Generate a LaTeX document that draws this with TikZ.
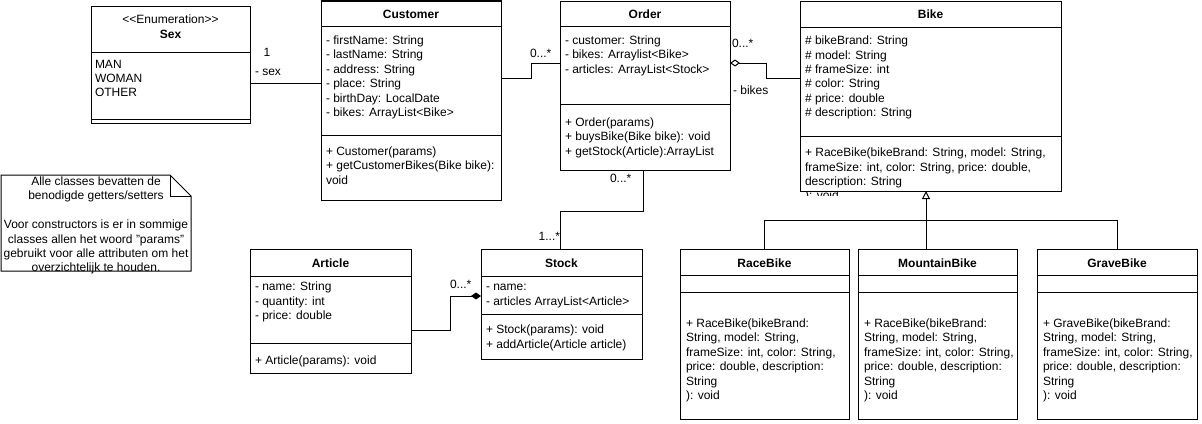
\documentclass[tikz,border=0pt]{standalone}
\usepackage{fontspec}
\setmainfont{Liberation Sans}
\usetikzlibrary{arrows.meta}
\newcommand\fs{\fontsize{12}{14.4}\selectfont}
% text block: name, x, first baseline, lines
\newcommand\tb[4]{\node[txt] (#1) at (#2,{#3-10.08}) {\strut #4};}
% header: name, x, baseline, text
\newcommand\hd[4]{\node[hdr] (#1) at (#2,#3) {#4};}
% separator: box, y
\newcommand\sepl[2]{\draw[ln] (#1.west |- 0,#2) -- (#1.east |- 0,#2);}
\begin{document}
\begin{tikzpicture}[x=1pt,y=-1pt,
  ln/.style={draw=black,line width=1pt},
  box/.style={draw=black,line width=1pt,inner sep=0pt,outer sep=0pt,anchor=north west,fill=white},
  txt/.style={inner sep=0pt,outer sep=0pt,anchor=north west,align=left,font=\fs},
  hdr/.style={inner sep=0pt,outer sep=0pt,anchor=base,font=\fs\bfseries},
  lbl/.style={inner sep=0pt,outer sep=0pt,font=\fs}]
\useasboundingbox[fill=white] (0,0) rectangle (1202,423);

% ---------- boxes ----------
\node[box,minimum width=159pt,minimum height=117pt] (sex) at (91,6) {};
\node[box,minimum width=180pt,minimum height=199pt] (cust) at (321,1) {};
\node[box,minimum width=170pt,minimum height=169pt] (ord) at (560,1) {};
\node[box,minimum width=261pt,minimum height=190pt] (bike) at (800,1) {};
\node[box,minimum width=161pt,minimum height=124pt] (art) at (250,249) {};
\node[box,minimum width=161pt,minimum height=110pt] (stock) at (481,249) {};
\node[box,minimum width=169pt,minimum height=170pt] (race) at (680,249) {};
\node[box,minimum width=159pt,minimum height=170pt] (mtn) at (858,249) {};
\node[box,minimum width=160pt,minimum height=170pt] (grave) at (1037,249) {};

% ---------- separators ----------
\sepl{sex}{52} \sepl{sex}{119}
\sepl{cust}{26} \sepl{cust}{135}
\sepl{ord}{26} \sepl{ord}{104}
\sepl{bike}{27} \sepl{bike}{136}
\sepl{art}{276} \sepl{art}{343}
\sepl{stock}{276} \sepl{stock}{314}
\sepl{race}{275} \sepl{race}{292}
\sepl{mtn}{275} \sepl{mtn}{292}
\sepl{grave}{275} \sepl{grave}{292}

% ---------- Sex ----------
\node[lbl,anchor=base] (sexst) at (170.5,23.5) {<{}<Enumeration>{}>};
\hd{sexh}{170.5}{38}{Sex}
\tb{sexa}{95}{68}{MAN\\WOMAN\\OTHER}

% ---------- Customer ----------
\hd{custh}{411}{18.5}{Customer}
\tb{custa}{326}{44.5}{- firstName: String\\- lastName: String\\- address: String\\- place: String\\- birthDay: LocalDate\\- bikes: ArrayList<Bike>}
\tb{custm}{326}{155.5}{+ Customer(params)\\+ getCustomerBikes(Bike bike):\\void}

% ---------- Order ----------
\hd{ordh}{645}{18.5}{Order}
\tb{orda}{565}{44.5}{- customer: String\\- bikes: Arraylist<Bike>\\- articles: ArrayList<Stock>}
\tb{ordm}{565}{126.5}{+ Order(params)\\+ buysBike(Bike bike): void\\+ getStock(Article):ArrayList}

% ---------- Bike ----------
\hd{bikeh}{930.5}{18.5}{Bike}
\tb{bikea}{805}{44.7}{\# bikeBrand: String\\\# model: String\\\# frameSize: int\\\# color: String\\\# price: double\\\# description: String}
\tb{bikem}{805}{156.7}{+ RaceBike(bikeBrand: String, model: String,\\frameSize: int, color: String, price: double,\\description: String}
\begin{scope}
\clip (802,191.6) rectangle (900,195);
\tb{bikeov}{805}{199.9}{): void}
\end{scope}

% ---------- Article ----------
\hd{arth}{330.5}{267.5}{Article}
\tb{arta}{255}{290.7}{- name: String\\- quantity: int\\- price: double}
\tb{artm}{255}{364.7}{+ Article(params): void}

% ---------- Stock ----------
\hd{stockh}{561.5}{267.5}{Stock}
\tb{stocka}{486}{290.7}{- name:\\- articles ArrayList<Article>}
\tb{stockm}{486}{333.7}{+ Stock(params): void\\+ addArticle(Article article)}

% ---------- Sub classes ----------
\hd{raceh}{764.5}{267.5}{RaceBike}
\tb{racem}{686}{327.5}{+ RaceBike(bikeBrand:\\String, model: String,\\frameSize: int, color: String,\\price: double, description:\\String\\): void}
\hd{mtnh}{937.5}{267.5}{MountainBike}
\tb{mtnm}{864}{327.5}{+ RaceBike(bikeBrand:\\String, model: String,\\frameSize: int, color: String,\\price: double, description:\\String\\): void}
\hd{graveh}{1117}{267.5}{GraveBike}
\tb{gravem}{1043}{327.5}{+ GraveBike(bikeBrand:\\String, model: String,\\frameSize: int, color: String,\\price: double, description:\\String\\): void}

% ---------- Note ----------
\coordinate (noteNW) at (1,175);
\coordinate (noteSE) at (191,271);
\draw[ln,fill=white] (noteNW) -- (170,175) -- (noteSE |- 0,196) -- (noteSE) -- (noteNW |- noteSE) -- cycle;
\draw[ln] (170,175) -- (170,196) -- (noteSE |- 0,196);
\node[txt,align=center,anchor=north] (notet) at (96,{185.5-10.08}) {\strut Alle classes bevatten de\\benodigde getters/setters\\\mbox{}\\Voor constructors is er in sommige\\classes allen het woord "params"\\gebruikt voor alle attributen om het\\overzichtelijk te houden.};

% ---------- connectors ----------
\draw[ln] (sex.east |- 0,83) -- (cust.west |- 0,83);
\node[lbl,anchor=base] (l1) at (267,56.5) {1};
\node[lbl,anchor=base west] (lsex) at (255,75.5) {- sex};

\draw[ln] (cust.east |- 0,78) -- (531,78) -- (531,63) -- (ord.west |- 0,63);
\node[lbl,anchor=base west] (lco) at (530,57) {0...*};

\draw[ln,{Diamond[open,length=10pt,width=7pt]}-] (ord.east |- 0,63) -- (766,63) -- (766,78) -- (bike.west |- 0,78);
\node[lbl,anchor=base west] (lob) at (732,47.5) {0...*};
\node[lbl,anchor=base west] (lbikes) at (733,94.3) {- bikes};

\draw[ln] (ord.south -| 643,0) -- (643,211) -- (560,211) -- (stock.north -| 560,0);
\node[lbl,anchor=base west] (los) at (610,182) {0...*};
\node[lbl,anchor=base east] (lso) at (560,240.5) {1...*};

\draw[ln,-{Diamond[length=10pt,width=7pt]}] (art.east |- 0,330) -- (450,330) -- (450,296) -- (stock.west |- 0,296);
\node[lbl,anchor=base west] (las) at (450,288.5) {0...*};

\draw[ln,-{Triangle[open,length=8pt,width=8pt]}] (mtn.north -| 926,0) -- (bike.south -| 926,0);
\draw[ln] (race.north) -- (race.north |- 0,220) -- (grave.north |- 0,220) -- (grave.north);
\end{tikzpicture}
\end{document}
